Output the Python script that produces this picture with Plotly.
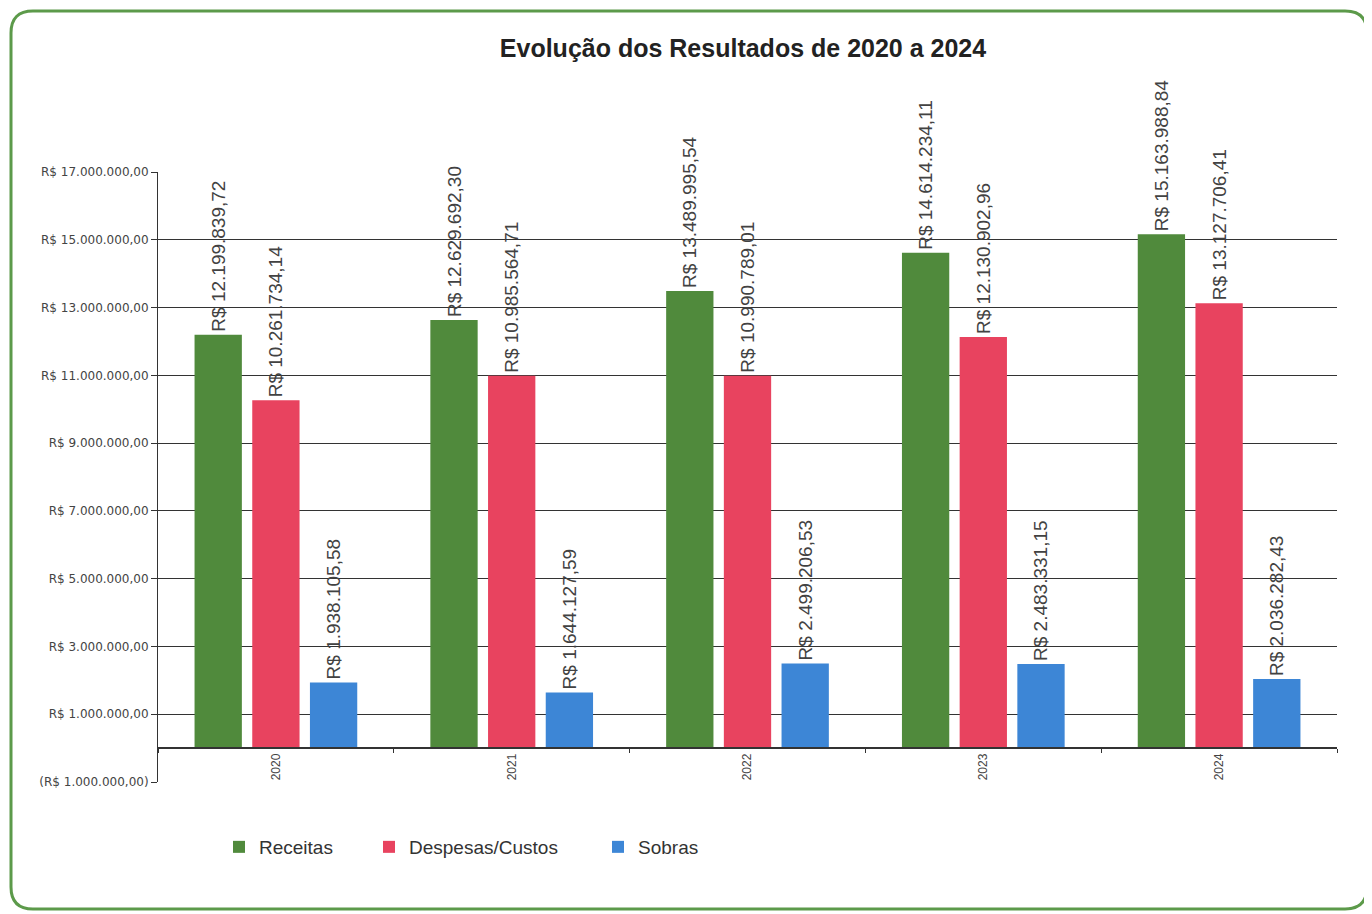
import plotly.graph_objects as go

anos = ["2020", "2021", "2022", "2023", "2024"]
receitas = [12199839.72, 12629692.30, 13489995.54, 14614234.11, 15163988.84]
despesas = [10261734.14, 10985564.71, 10990789.01, 12130902.96, 13127706.41]
sobras = [1938105.58, 1644127.59, 2499206.53, 2483331.15, 2036282.43]

y_tickvals = [-1e6, 1e6, 3e6, 5e6, 7e6, 9e6, 11e6, 13e6, 15e6, 17e6]
y_ticktext = ["(R$ 1.000.000,00)", "R$ 1.000.000,00", "R$ 3.000.000,00", "R$ 5.000.000,00",
              "R$ 7.000.000,00", "R$ 9.000.000,00", "R$ 11.000.000,00", "R$ 13.000.000,00",
              "R$ 15.000.000,00", "R$ 17.000.000,00"]


def brl(v):
    s = f"{v:,.2f}".replace(",", "X").replace(".", ",").replace("X", ".")
    return "R$ " + s


FONT = "Arial, Liberation Sans, sans-serif"
OFF = 8  # page body margin
W, H = 1372 - OFF, 914 - OFF
# plot area in window pixels: x 158..1337, y 172..782
L = 158 - OFF
T = 172 - OFF
R = W - (1337 - OFF)
B = H - (782 - OFF)
PW, PH = W - L - R, H - T - B


def a(px, py):
    """window pixel -> paper coords"""
    fx, fy = px - OFF, py - OFF
    return (fx - L) / PW, (H - B - fy) / PH


fig = go.Figure()
series = [("Receitas", receitas, "#508a3c", "legend", 255),
          ("Despesas/Custos", despesas, "#e8435f", "legend2", 405),
          ("Sobras", sobras, "#3d86d6", "legend3", 634)]
legends = {}
for name, vals, col, lg, text_x in series:
    fig.add_trace(go.Bar(
        name=name, x=anos, y=vals, marker=dict(color=col, line=dict(width=0)),
        text=[brl(v) for v in vals], textposition="outside", textangle=-90,
        constraintext="none", cliponaxis=False,
        textfont=dict(family=FONT, size=19, color="#424242"),
        legend=lg,
    ))
    legends[lg] = dict(orientation="h", x=a(text_x - 36, 0)[0], xanchor="left",
                       y=a(0, 847)[1], yanchor="middle", bgcolor="rgba(0,0,0,0)",
                       font=dict(family=FONT, size=19, color="#333333"), itemwidth=30)

# rounded green frame (decoration)
x0, y0 = 11, 11
x1, y1 = 1367, 909
r = 22


def P(x, y):
    u, v = a(x, y)
    return f"{u:.5f},{v:.5f}"


path = (f"M {P(x0 + r, y0)} L {P(x1 - r, y0)} Q {P(x1, y0)} {P(x1, y0 + r)} "
        f"L {P(x1, y1 - r)} Q {P(x1, y1)} {P(x1 - r, y1)} L {P(x0 + r, y1)} "
        f"Q {P(x0, y1)} {P(x0, y1 - r)} L {P(x0, y0 + r)} Q {P(x0, y0)} {P(x0 + r, y0)} Z")
fig.add_shape(type="path", path=path, xref="paper", yref="paper",
              line=dict(color="#5c9a4a", width=3), fillcolor="rgba(0,0,0,0)", layer="below")

ymin, ymax = -1e6, 17e6
fig.update_layout(
    width=W, height=H,
    margin=dict(l=L, r=R, t=T, b=B),
    paper_bgcolor="white", plot_bgcolor="white",
    font=dict(family=FONT, color="#333333"),
    title=dict(text="<b>Evolução dos Resultados de 2020 a 2024</b>",
               x=(743 - OFF) / W, xanchor="center",
               y=1 - (48 - OFF) / H, yanchor="middle",
               font=dict(family=FONT, size=25, color="#222222")),
    barmode="group", bargap=0.266, bargroupgap=0.18,
    showlegend=True,
    legend=legends["legend"], legend2=legends["legend2"], legend3=legends["legend3"],
    xaxis=dict(
        anchor="free", position=(0 - ymin) / (ymax - ymin),
        showline=True, linecolor="#333333", linewidth=1.5,
        ticks="outside", tickson="boundaries", ticklen=4, tickcolor="#333333",
        tickangle=-90, tickfont=dict(family=FONT, size=12, color="#444444"),
        showgrid=False,
    ),
    yaxis=dict(
        range=[ymin, ymax], tickvals=y_tickvals, ticktext=y_ticktext,
        showline=True, linecolor="#333333", linewidth=1,
        ticks="outside", ticklen=6, tickcolor="#333333",
        showgrid=True, gridcolor="#333333", gridwidth=1.2,
        zeroline=False,
        tickfont=dict(family="DejaVu Sans, sans-serif", size=12, color="#444444"),
    ),
)

fig.write_html("out.html")
